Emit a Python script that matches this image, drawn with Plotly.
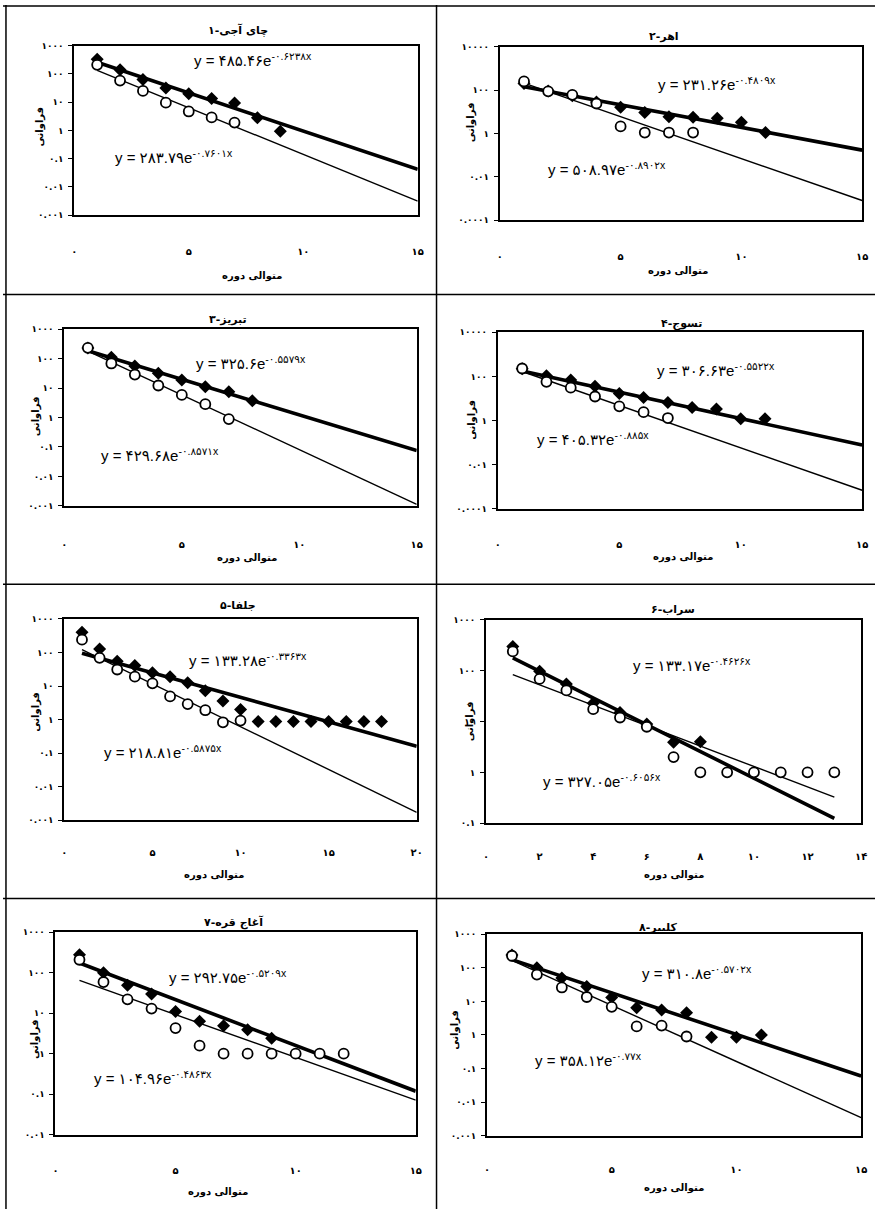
import numpy as np
import plotly.graph_objects as go

W, H = 881, 1214

# ---------------- data ----------------
titles = ["چای آجی-۱", "اهر-۲", "تبریز-۳", "تسوج-۴",
          "جلفا-۵", "سراب-۶", "آغاج قره-۷", "کلیبر-۸"]
x_title = "متوالی دوره"
y_title = "فراوانی"

# filled diamonds (x, y) and open circles (x, y) per station
d1_x = [1, 2, 3, 4, 5, 6, 7, 8, 9]
d1_y = [330, 140, 63, 32, 20, 13.6, 9.3, 2.8, 0.93]
c1_x = [1, 2, 3, 4, 5, 6, 7]
c1_y = [210, 58, 25, 9.6, 4.7, 2.9, 1.9]

d2_x = [1, 2, 3, 4, 5, 6, 7, 8, 9, 10, 11]
d2_y = [200, 90, 55, 28, 16, 9.3, 5.9, 5.5, 5.0, 3.3, 1.1]
c2_x = [1, 2, 3, 4, 5, 6, 7, 8]
c2_y = [250, 87, 60, 24, 2.1, 1.1, 1.1, 1.1]

d3_x = [1, 2, 3, 4, 5, 6, 7, 8]
d3_y = [230, 113, 57, 32, 19, 11.2, 7.6, 3.7]
c3_x = [1, 2, 3, 4, 5, 6, 7]
c3_y = [234, 69, 29, 12.3, 5.9, 2.85, 0.89]

d4_x = [1, 2, 3, 4, 5, 6, 7, 8, 9, 10, 11]
d4_y = [220, 107, 68, 36, 17, 11, 6.6, 3.9, 3.3, 1.2, 1.2]
c4_x = [1, 2, 3, 4, 5, 6, 7]
c4_y = [228, 57, 31, 12.3, 4.4, 2.4, 1.3]

d5_x = list(range(1, 19))
d5_y = [400, 127, 55, 41, 25, 19, 12.6, 7.2, 3.6, 2.0,
        0.87, 0.87, 0.87, 0.87, 0.87, 0.87, 0.87, 0.87]
c5_x = [1, 2, 3, 4, 5, 6, 7, 8, 9, 10]
c5_y = [240, 69, 31, 19, 12, 4.9, 2.9, 1.9, 0.83, 0.93]

d6_x = [1, 2, 3, 4, 5, 6, 7, 8]
d6_y = [300, 98, 55, 23, 15, 8.9, 3.9, 4.0]
c6_x = [1, 2, 3, 4, 5, 6, 7, 8, 9, 10, 11, 12, 13]
c6_y = [240, 69, 41, 17.5, 12, 7.9, 2.0, 1, 1, 1, 1, 1, 1]

d7_x = [1, 2, 3, 4, 5, 6, 7, 8, 9]
d7_y = [280, 100, 49, 30, 11, 6.3, 4.9, 3.9, 2.4]
c7_x = [1, 2, 3, 4, 5, 6, 7, 8, 9, 10, 11, 12]
c7_y = [210, 59, 22, 13, 4.3, 1.58, 1, 1, 1, 1, 1, 1]

d8_x = [1, 2, 3, 4, 5, 6, 7, 8, 9, 10, 11]
d8_y = [240, 100, 50, 28, 13, 6.5, 5.5, 4.6, 0.85, 0.85, 1.0]
c8_x = [1, 2, 3, 4, 5, 6, 7, 8]
c8_y = [229, 63, 26, 13.5, 6.9, 1.8, 1.9, 0.9]

# exponential trend lines y = a e^(-b x): upper label fit, lower label fit
fit_up_a = [485.46, 231.26, 325.6, 306.63, 133.28, 133.17, 292.75, 310.8]
fit_up_b = [0.6238, 0.4809, 0.5579, 0.5522, 0.3363, 0.4626, 0.5209, 0.5702]
fit_lo_a = [283.79, 508.97, 429.68, 405.32, 218.81, 327.05, 104.96, 358.12]
fit_lo_b = [0.7601, 0.8902, 0.8571, 0.885, 0.5875, 0.6056, 0.4863, 0.77]
fit_up_thick = [True, True, True, True, True, False, True, True]
line_end = [15, 15, 15, 15, 20, 13, 15, 15]

x_max = [15, 15, 15, 15, 20, 14, 15, 15]
x_step = [5, 5, 5, 5, 5, 2, 5, 5]
y_exp_lo = [-3, -4, -3, -4, -3, -1, -2, -3]
y_exp_hi = [3, 4, 3, 4, 3, 3, 3, 3]
y_exp_step = [1, 2, 1, 2, 1, 1, 1, 1]

diam_x = [d1_x, d2_x, d3_x, d4_x, d5_x, d6_x, d7_x, d8_x]
diam_y = [d1_y, d2_y, d3_y, d4_y, d5_y, d6_y, d7_y, d8_y]
circ_x = [c1_x, c2_x, c3_x, c4_x, c5_x, c6_x, c7_x, c8_x]
circ_y = [c1_y, c2_y, c3_y, c4_y, c5_y, c6_y, c7_y, c8_y]

# ---------------- layout geometry (pixels) ----------------
boxes = [  # left, right, top, bottom
    (72, 419, 41, 212), (502, 868, 42, 217),
    (62, 418, 327, 505), (500, 868, 330, 508),
    (62, 418, 619, 822), (488, 867, 620, 825),
    (53, 417, 935, 1139), (489, 867, 937, 1140),
]
title_pos = [(237, 25), (668, 32), (227, 317), (685, 322),
             (237, 605), (677, 610), (233, 925), (662, 930)]
xtitle_pos = [(252, 273), (682, 268), (247, 558), (687, 557),
              (213, 877), (678, 877), (217, 1197), (678, 1193)]
ytitle_pos = [(37, 123), (473, 118), (33, 415), (473, 418),
              (33, 713), (472, 722), (33, 1043), (457, 1033)]
eq_up_pos = [(0.52, 0.92), (0.60, 0.79), (0.53, 0.81), (0.60, 0.79),
             (0.52, 0.80), (0.55, 0.78), (0.48, 0.78), (0.56, 0.81)]
eq_lo_pos = [(0.29, 0.345), (0.295, 0.30), (0.27, 0.29), (0.26, 0.40),
             (0.28, 0.34), (0.31, 0.21), (0.27, 0.28), (0.27, 0.38)]
xlab_gap = [40, 40, 42, 39, 36, 37, 39, 37]

FA = str.maketrans("0123456789", "۰۱۲۳۴۵۶۷۸۹")


def fa(v):
    return str(v).translate(FA)


def fa_tick(e):
    v = 10.0 ** e
    s = str(int(v)) if e >= 0 else ("%." + str(-e) + "f") % v
    return fa(s)


fig = go.Figure()
annotations = []
TXT = "DejaVu Sans"
EQ = "Liberation Sans, DejaVu Sans"

for i in range(8):
    n = "" if i == 0 else str(i + 1)
    xa, ya = "x" + n, "y" + n
    l, r, t, b = boxes[i]

    # trend lines
    for a, bb, thick in ((fit_up_a[i], fit_up_b[i], fit_up_thick[i]),
                         (fit_lo_a[i], fit_lo_b[i], not fit_up_thick[i])):
        xs = np.linspace(1, line_end[i], 80)
        fig.add_trace(go.Scatter(
            x=xs, y=a * np.exp(-bb * xs), mode="lines",
            line=dict(color="black", width=3.6 if thick else 1.4),
            xaxis=xa, yaxis=ya, showlegend=False, hoverinfo="skip"))
    fig.add_trace(go.Scatter(
        x=diam_x[i], y=diam_y[i], mode="markers",
        marker=dict(symbol="diamond", size=10, color="black"),
        xaxis=xa, yaxis=ya, showlegend=False, cliponaxis=False))
    fig.add_trace(go.Scatter(
        x=circ_x[i], y=circ_y[i], mode="markers",
        marker=dict(symbol="circle", size=10, color="white",
                    line=dict(color="black", width=1.8)),
        xaxis=xa, yaxis=ya, showlegend=False, cliponaxis=False))

    xt = list(range(0, x_max[i] + 1, x_step[i]))
    yt = list(range(y_exp_lo[i], y_exp_hi[i] + 1, y_exp_step[i]))
    fig.layout["xaxis" + n] = dict(
        domain=[l / W, r / W], anchor=ya, range=[0, x_max[i]],
        tickvals=xt, ticktext=["<b>" + fa(v) + "</b>" for v in xt],
        ticks="", ticklabelstandoff=xlab_gap[i] - 14,
        tickfont=dict(family=TXT, size=10, color="black"),
        showline=True, mirror=True, linecolor="black", linewidth=2,
        showgrid=False, zeroline=False)
    fig.layout["yaxis" + n] = dict(
        domain=[1 - b / H, 1 - t / H], anchor=xa, type="log",
        range=[y_exp_lo[i], y_exp_hi[i]],
        tickvals=[10.0 ** e for e in yt],
        ticktext=["<b>" + fa_tick(e) + "</b>" for e in yt],
        ticks="outside", ticklen=4, tickcolor="black", ticklabelstandoff=3,
        tickfont=dict(family=TXT, size=9, color="black"),
        showline=True, mirror=True, linecolor="black", linewidth=2,
        showgrid=False, zeroline=False)

    # texts
    common = dict(showarrow=False, xanchor="center", yanchor="middle")
    tx, ty = title_pos[i]
    annotations.append(dict(x=tx / W, y=1 - ty / H, xref="paper", yref="paper",
                            text="<b>" + titles[i] + "</b>",
                            font=dict(family=TXT, size=11, color="black"), **common))
    tx, ty = xtitle_pos[i]
    annotations.append(dict(x=tx / W, y=1 - ty / H, xref="paper", yref="paper",
                            text="<b>" + x_title + "</b>",
                            font=dict(family=TXT, size=10, color="black"), **common))
    tx, ty = ytitle_pos[i]
    annotations.append(dict(x=tx / W, y=1 - ty / H, xref="paper", yref="paper",
                            text="<b>" + y_title + "</b>", textangle=-90,
                            font=dict(family=TXT, size=10, color="black"), **common))
    for (ex, ey), a, bb in ((eq_up_pos[i], fit_up_a[i], fit_up_b[i]),
                            (eq_lo_pos[i], fit_lo_a[i], fit_lo_b[i])):
        annotations.append(dict(
            x=ex, y=ey, xref=xa + " domain", yref=ya + " domain",
            text="y = " + fa(a) + "e<sup>-" + fa(bb) + "x</sup>",
            font=dict(family=EQ, size=15, color="black"), **common))

# panel divider lines
shapes = []
for yy in (1, 292, 584, 901):
    shapes.append(dict(type="line", xref="paper", yref="paper", x0=0, x1=1,
                       y0=1 - yy / H, y1=1 - yy / H,
                       line=dict(color="black", width=1.5)))
for xx in (3, 438):
    shapes.append(dict(type="line", xref="paper", yref="paper",
                       x0=xx / W, x1=xx / W, y0=0, y1=1,
                       line=dict(color="black", width=1.5)))

fig.update_layout(width=W, height=H, margin=dict(l=0, r=0, t=0, b=0),
                  paper_bgcolor="white", plot_bgcolor="white",
                  annotations=annotations, shapes=shapes, showlegend=False)

post = (
    "document.body.style.margin='0';"
    "document.body.style.padding='0';"
    "document.body.style.overflow='hidden';"
)
fig.write_html("out.html", config={"displayModeBar": False}, post_script=post)
